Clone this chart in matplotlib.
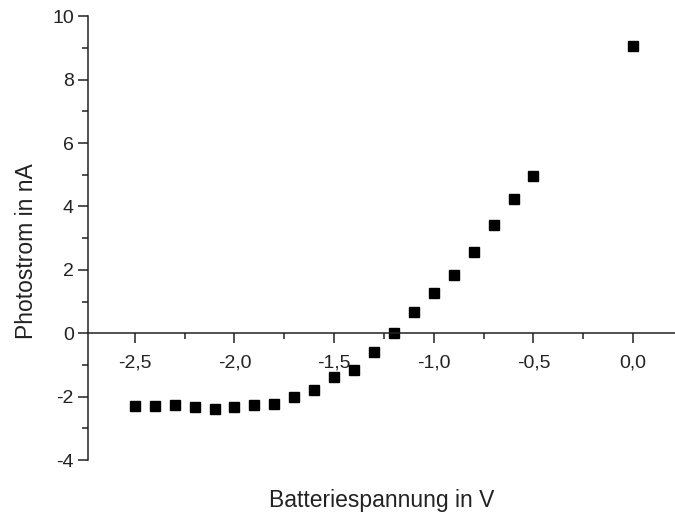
import matplotlib.pyplot as plt
from matplotlib.ticker import MultipleLocator, FuncFormatter

plt.rcParams['font.family'] = ['Liberation Sans', 'DejaVu Sans']

# Batteriespannung (V) und Photostrom (nA)
spannung = [-2.5, -2.4, -2.3, -2.2, -2.1, -2.0, -1.9, -1.8, -1.7, -1.6, -1.5,
            -1.4, -1.3, -1.2, -1.1, -1.0, -0.9, -0.8, -0.7, -0.6, -0.5, 0.0]
strom = [-2.30, -2.30, -2.27, -2.33, -2.38, -2.31, -2.27, -2.23, -2.01, -1.78, -1.38,
         -1.15, -0.60, 0.02, 0.67, 1.26, 1.83, 2.55, 3.43, 4.22, 4.95, 9.05]

fig = plt.figure(figsize=(6.75, 5.2), dpi=100)
ax = fig.add_axes([0.130, 0.115, 0.870, 0.854])

ax.plot(spannung, strom, 's', color='black', markersize=6.8, linestyle='none')

ax.set_xlim(-2.736, 0.21)
ax.set_ylim(-4, 10)

ax.spines['top'].set_visible(False)
ax.spines['right'].set_visible(False)
ax.spines['bottom'].set_position(('data', 0))
for s in ('left', 'bottom'):
    ax.spines[s].set_linewidth(1.1)
    ax.spines[s].set_color('#222222')

ax.xaxis.set_major_locator(MultipleLocator(0.5))
ax.xaxis.set_minor_locator(MultipleLocator(0.25))
ax.yaxis.set_major_locator(MultipleLocator(2))
ax.yaxis.set_minor_locator(MultipleLocator(1))
ax.xaxis.set_major_formatter(FuncFormatter(lambda v, p: f'{v:.1f}'.replace('.', ',').replace('-0,0', '0,0')))
ax.yaxis.set_major_formatter(FuncFormatter(lambda v, p: f'{v:.0f}'))

ax.tick_params(which='both', direction='out', width=1.1, color='#222222',
               labelsize=14, labelcolor='#222222')
ax.tick_params(which='major', length=7)
ax.tick_params(which='minor', length=4)
ax.tick_params(axis='x', pad=8)
ax.tick_params(axis='y', pad=3)

ax.set_ylabel('Photostrom in nA', fontsize=16.5, color='#222222')
ax.yaxis.set_label_coords(-0.085, 0.47)
ax.set_xlabel('Batteriespannung in V', fontsize=16.5, color='#222222')
ax.xaxis.set_label_coords(0.5, -0.065)

fig.savefig('out.png', dpi=100)
